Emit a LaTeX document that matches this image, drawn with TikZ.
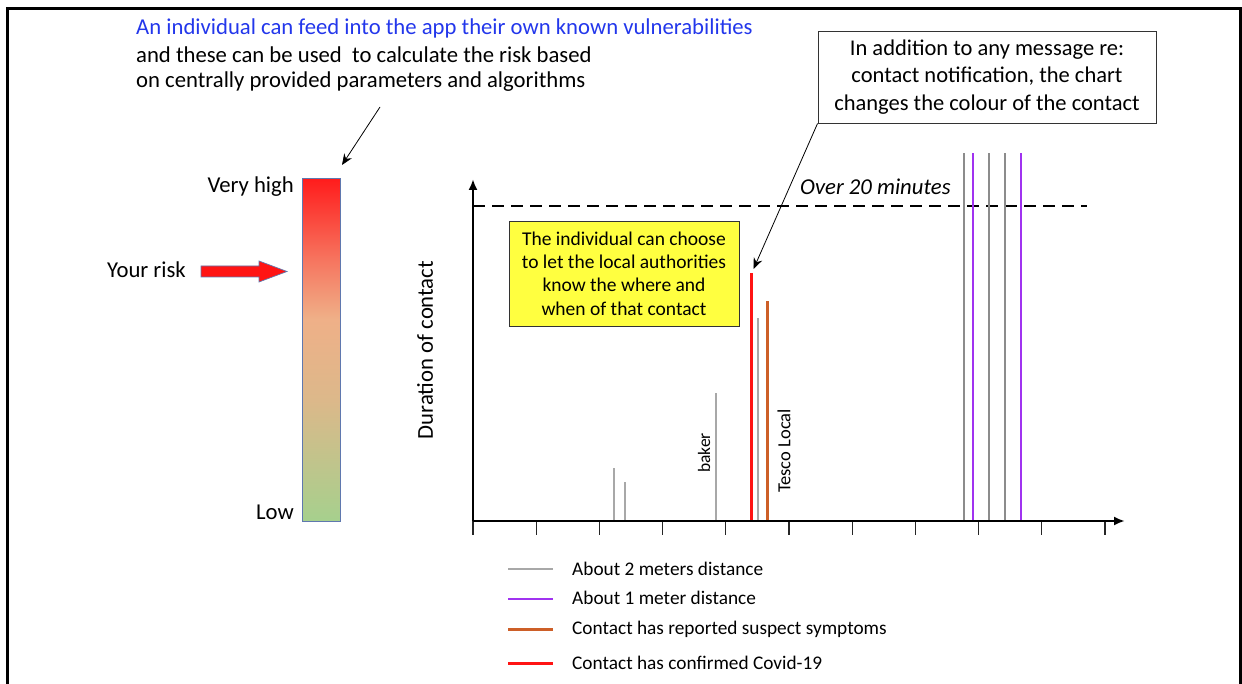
\documentclass[tikz,border=0pt]{standalone}
\usepackage{fontspec}
\setmainfont{Carlito}
\usetikzlibrary{arrows.meta}
\definecolor{blueTxt}{RGB}{35,55,235}
\definecolor{barRed}{RGB}{255,28,28}
\definecolor{barSalmon}{RGB}{246,118,96}
\definecolor{barPeach}{RGB}{239,176,136}
\definecolor{barTan}{RGB}{220,184,138}
\definecolor{barGreen}{RGB}{166,208,141}
\definecolor{bordBlue}{RGB}{95,120,175}
\definecolor{lgray}{RGB}{168,168,168}
\definecolor{dgray}{RGB}{140,140,140}
\definecolor{cpurple}{RGB}{160,50,240}
\definecolor{corange}{RGB}{205,95,40}
\definecolor{cred}{RGB}{255,20,20}
\definecolor{boxYellow}{RGB}{255,255,64}
\pgfdeclareverticalshading{riskbar}{100bp}{color(0bp)=(barGreen); color(25bp)=(barGreen); color(42.7bp)=(barTan); color(54.5bp)=(barPeach); color(63bp)=(barSalmon); color(75bp)=(barRed); color(100bp)=(barRed)}
\tikzset{
  txt/.style={font=\fontsize{22.7}{27}\selectfont, inner sep=0pt},
  midtxt/.style={font=\fontsize{22.7}{27}\selectfont, inner sep=0pt},
  legtxt/.style={font=\fontsize{19.3}{23}\selectfont, inner sep=0pt, anchor=west},
  smalltxt/.style={font=\fontsize{17.5}{22}\selectfont, inner sep=0pt},
  bar/.style={line width=#1},
  tickline/.style={line width=1.1pt, draw=black!85},
  axisline/.style={line width=2.3pt, -{Latex[length=11pt,width=9pt]}},
  pointer/.style={line width=0.8pt, -{Stealth[length=11pt,width=9pt]}},
}
\begin{document}
\begin{tikzpicture}[x=1pt,y=-1pt]
\useasboundingbox (0,0) rectangle (1242,684);
% frame
\draw[line width=3pt] (7,684) -- (7,9) -- (1240,9) -- (1240,684);

% top text
\node[txt, anchor=west, text=blueTxt] (t1) at (136,28) {An individual can feed into the app their own known vulnerabilities};
\node[txt, anchor=west] (t2) at (136,55) {and these can be used\ \ to calculate the risk based};
\node[txt, anchor=west] (t3) at (136,82) {on centrally provided parameters and algorithms};

% risk bar
\node[inner sep=0pt, minimum width=37pt, minimum height=342pt] (bar) at (321.5,350) {};
\shade[shading=riskbar] (bar.north west) rectangle (bar.south east);
\draw[draw=bordBlue, line width=0.7pt] (bar.north west) rectangle (bar.south east);
\node[midtxt, anchor=east] (vh) at (294,187) {Very high};
\node[midtxt, anchor=east] (low) at (294,512) {Low};
\node[midtxt, anchor=west] (yr) at (107,270) {Your risk};
\draw[fill=cred, draw=bordBlue, line width=0.7pt] (201,266) -- (259,266) -- (259,261) -- (287,271.5) -- (259,282) -- (259,277) -- (201,277) -- cycle;

\coordinate (p1s) at (380,107);
\coordinate (p1e) at (342,165);
\draw[pointer] (p1s) -- (p1e);

% axes
\coordinate (O) at (473,521);
\coordinate (xend) at (1125,521);
\coordinate (yend) at (473,179);
\foreach \k in {0,...,10} {
  \draw[tickline] ({473+63.2*\k},521) -- ({473+63.2*\k},535);
}
\draw[line width=1.8pt, dash pattern=on 12pt off 7pt] (473,206) -- (1087,206);

% contact lines
\draw[bar=2pt, lgray] (613.5,521) -- (613.5,468);
\draw[bar=2pt, lgray] (624.5,521) -- (624.5,482);
\draw[bar=2pt, lgray] (715.5,521) -- (715.5,393);
\draw[bar=3.2pt, cred] (751.5,521) -- (751.5,273);
\draw[bar=2pt, lgray] (757.8,521) -- (757.8,318);
\draw[bar=3pt, corange] (767.3,521) -- (767.3,301);
\draw[bar=2pt, dgray] (963.5,521) -- (963.5,153);
\draw[bar=2pt, cpurple] (973.3,521) -- (973.3,153);
\draw[bar=2pt, dgray] (988.8,521) -- (988.8,153);
\draw[bar=2pt, dgray] (1005.3,521) -- (1005.3,153);
\draw[bar=2pt, cpurple] (1021,521) -- (1021,153);

\draw[axisline] (O) -- (xend);
\draw[axisline] (O) -- (yend);

\node[smalltxt, rotate=90] (baker) at (704,453) {baker};
\node[smalltxt, font=\fontsize{18.5}{22}\selectfont, rotate=90] (tesco) at (784,451) {Tesco Local};
\node[midtxt, rotate=90] (ylab) at (425,350) {Duration of contact};
\node[midtxt, anchor=west, font=\fontsize{22.7}{27}\selectfont\itshape] (over) at (800,187) {Over 20 minutes};

% yellow box
\node[draw=black!80, line width=0.9pt, fill=boxYellow, minimum width=230pt, minimum height=105pt, align=center, font=\fontsize{19.5}{23.3}\selectfont, inner sep=0pt] (ybox) at (624,273.5) {The individual can choose\\to let the local authorities\\know the where and\\when of that contact};

% callout box
\node[draw=black!80, line width=0.9pt, fill=white, minimum width=338pt, minimum height=92pt, align=center, font=\fontsize{22.5}{27.5}\selectfont, inner sep=0pt] (call) at (987,77) {In addition to any message re:\\contact notification, the chart\\changes the colour of the contact};
\coordinate (redtop) at (753.5,269);
\draw[pointer] (call.south west) -- (redtop);

% legend
\coordinate (l1a) at (508,569); \coordinate (l1b) at (553,569);
\coordinate (l2a) at (508,599); \coordinate (l2b) at (553,599);
\coordinate (l3a) at (508,629); \coordinate (l3b) at (553,629);
\coordinate (l4a) at (508,663); \coordinate (l4b) at (553,663);
\draw[bar=2pt, lgray] (l1a) -- (l1b);
\draw[bar=2pt, cpurple] (l2a) -- (l2b);
\draw[bar=3pt, corange] (l3a) -- (l3b);
\draw[bar=3pt, cred] (l4a) -- (l4b);
\node[legtxt] (g1) at (572,569) {About 2 meters distance};
\node[legtxt] (g2) at (572,598) {About 1 meter distance};
\node[legtxt] (g3) at (572,629) {Contact has reported suspect symptoms};
\node[legtxt] (g4) at (572,663) {Contact has confirmed Covid-19};
\end{tikzpicture}
\end{document}
